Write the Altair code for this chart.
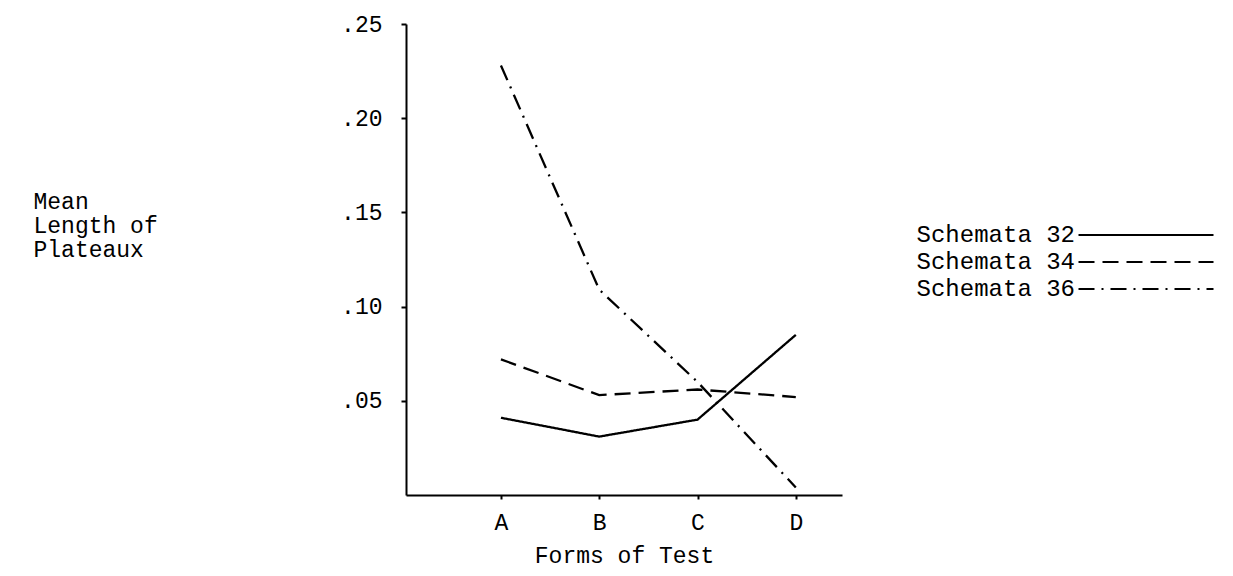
import altair as alt
import pandas as pd

categories = ["A", "B", "C", "D"]
series = ["Schemata 32", "Schemata 34", "Schemata 36"]
s32 = [0.041, 0.031, 0.040, 0.085]
s34 = [0.072, 0.053, 0.056, 0.052]
s36 = [0.228, 0.109, 0.060, 0.004]
y_ticks = [0.05, 0.10, 0.15, 0.20, 0.25]
dash_styles = [[1, 0], [16, 8], [16, 7, 2, 7]]

rows = []
for name, vals in zip(series, [s32, s34, s36]):
    for i, (c, v) in enumerate(zip(categories, vals)):
        rows.append({"series": name, "form": c, "pos": i + 1, "value": v})
df = pd.DataFrame(rows)

FONT = "Liberation Mono"
FS = 23
LFS = 24
label_expr = "[" + ",".join("'%s'" % c for c in categories) + "][datum.value - 1]"

chart = alt.Chart(df).mark_line(color="black", strokeWidth=2.3).encode(
    x=alt.X(
        "pos:Q",
        scale=alt.Scale(domain=[0.034, 4.47], nice=False, zero=False),
        axis=alt.Axis(
            values=[1, 2, 3, 4], labelExpr=label_expr, title="Forms of Test",
            grid=False, tickSize=4, labelPadding=12,
            titleBaseline="middle", titleY=60,
        ),
    ),
    y=alt.Y(
        "value:Q",
        scale=alt.Scale(domain=[0, 0.25], nice=False),
        axis=alt.Axis(
            values=y_ticks, labelExpr="slice(format(datum.value, '.2f'), 1)",
            title=["Mean", "Length of", "Plateaux"], titleAngle=0,
            titleAlign="left", titleBaseline="top", titleX=-373, titleY=166,
            titleLineHeight=24, grid=False, tickSize=5, labelPadding=19,
        ),
    ),
    strokeDash=alt.StrokeDash(
        "series:N",
        scale=alt.Scale(domain=series, range=dash_styles),
        legend=alt.Legend(
            orient="none", legendX=728, legendY=199, title=None,
            symbolType="M-10,0H10", symbolSize=13.5 * 13.5, symbolStrokeWidth=2,
            symbolStrokeColor="black", labelAlign="right",
            labelOffset={"expr": "-83"},
            rowPadding=3,
        ),
    ),
    detail="series:N",
).properties(
    width=436, height=471,
    padding={"left": 398, "top": 16, "right": 380, "bottom": 73},
    autosize=alt.AutoSizeParams(type="none"),
).configure_view(stroke=None).configure_axis(
    domainColor="black", domainWidth=2, tickColor="black", tickWidth=2,
    labelFont=FONT, labelFontSize=FS, labelColor="black",
    titleFont=FONT, titleFontSize=FS, titleColor="black", titleFontWeight="normal",
).configure_legend(
    labelFont=FONT, labelFontSize=LFS, labelColor="black", labelLimit=400,
)

chart.save("out.html", embed_options={"renderer": "svg", "actions": False})
